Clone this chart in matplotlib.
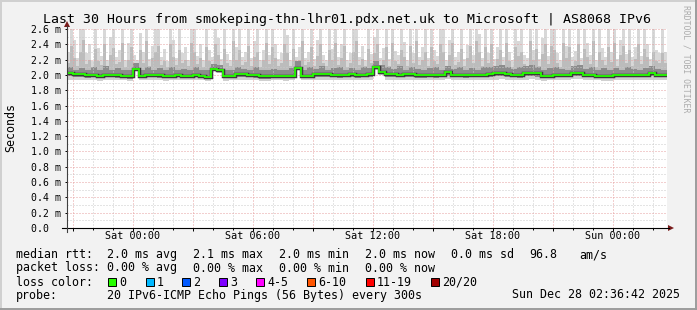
import matplotlib
matplotlib.use('Agg')
import matplotlib.pyplot as plt
import numpy as np
from matplotlib.patches import Rectangle, Polygon
from matplotlib.lines import Line2D

plt.rcParams['font.family'] = 'DejaVu Sans Mono'

W, H = 697, 310

# hours relative to Sat 00:00; 100 bins of 18 min for median / core, 200 bins of 9 min for smoke tops
t_start = -3.3
t_end = 26.7

median_rtt = [
    2.03, 2.01, 2.01, 2.00, 2.00, 1.99, 2.00, 2.00, 2.00, 1.99,
    1.98, 2.08, 1.99, 2.00, 2.00, 2.00, 1.99, 1.99, 2.00, 1.99,
    1.99, 2.00, 1.99, 1.975, 2.08, 2.06, 1.985, 1.985, 2.01, 2.01,
    2.00, 2.00, 1.98, 1.98, 1.98, 1.985, 1.985, 1.99, 2.095, 1.99,
    1.99, 2.01, 2.01, 2.01, 2.00, 2.00, 2.00, 2.01, 2.00, 2.00,
    2.01, 2.10, 2.04, 2.01, 2.01, 2.00, 2.01, 2.01, 2.00, 2.00,
    2.00, 2.00, 2.00, 2.035, 2.00, 2.00, 2.00, 2.00, 2.00, 2.00,
    2.01, 2.02, 2.02, 2.01, 2.00, 2.00, 2.02, 2.03, 2.02, 1.99,
    1.99, 2.00, 2.00, 2.00, 2.02, 2.03, 2.00, 2.00, 1.99, 1.985,
    1.985, 2.00, 2.00, 2.00, 2.00, 2.00, 2.00, 2.02, 2.00, 2.00]

smoke_lo = [
    1.93, 1.94, 1.93, 1.93, 1.94, 1.92, 1.93, 1.94, 1.93, 1.93,
    1.92, 2.05, 1.93, 1.94, 1.93, 1.93, 1.92, 1.93, 1.94, 1.93,
    1.93, 1.94, 1.93, 1.92, 2.05, 2.03, 1.92, 1.93, 1.94, 1.93,
    1.93, 1.94, 1.92, 1.92, 1.93, 1.93, 1.92, 1.94, 2.06, 1.93,
    1.93, 1.94, 1.94, 1.93, 1.94, 1.93, 1.93, 1.94, 1.93, 1.94,
    1.94, 2.07, 2.00, 1.94, 1.93, 1.94, 1.93, 1.94, 1.93, 1.93,
    1.94, 1.93, 1.93, 1.95, 1.93, 1.94, 1.93, 1.93, 1.94, 1.93,
    1.94, 1.94, 1.95, 1.94, 1.93, 1.93, 1.94, 1.95, 1.94, 1.92,
    1.93, 1.93, 1.94, 1.93, 1.95, 1.95, 1.93, 1.93, 1.93, 1.92,
    1.92, 1.93, 1.94, 1.93, 1.93, 1.94, 1.93, 1.94, 1.93, 1.94]

smoke_core_lo = [
    1.98, 1.97, 1.97, 1.96, 1.97, 1.96, 1.97, 1.97, 1.96, 1.96,
    1.95, 2.06, 1.96, 1.97, 1.97, 1.96, 1.96, 1.96, 1.97, 1.96,
    1.96, 1.97, 1.96, 1.95, 2.06, 2.04, 1.96, 1.96, 1.97, 1.97,
    1.97, 1.96, 1.95, 1.95, 1.96, 1.96, 1.96, 1.97, 2.08, 1.96,
    1.96, 1.97, 1.97, 1.97, 1.97, 1.96, 1.97, 1.97, 1.96, 1.97,
    1.97, 2.08, 2.02, 1.97, 1.97, 1.97, 1.97, 1.97, 1.96, 1.96,
    1.97, 1.96, 1.97, 1.98, 1.97, 1.97, 1.96, 1.97, 1.97, 1.97,
    1.97, 1.98, 1.98, 1.97, 1.97, 1.96, 1.98, 1.98, 1.97, 1.96,
    1.96, 1.97, 1.97, 1.97, 1.98, 1.98, 1.97, 1.97, 1.96, 1.96,
    1.96, 1.97, 1.97, 1.97, 1.97, 1.97, 1.97, 1.98, 1.97, 1.97]

smoke_core_hi = [
    2.10, 2.07, 2.09, 2.06, 2.11, 2.07, 2.12, 2.06, 2.09, 2.07,
    2.06, 2.15, 2.07, 2.10, 2.06, 2.09, 2.07, 2.11, 2.06, 2.08,
    2.07, 2.10, 2.06, 2.06, 2.14, 2.13, 2.07, 2.06, 2.10, 2.08,
    2.07, 2.11, 2.06, 2.06, 2.08, 2.06, 2.07, 2.09, 2.18, 2.07,
    2.10, 2.08, 2.12, 2.07, 2.09, 2.11, 2.07, 2.09, 2.07, 2.10,
    2.09, 2.18, 2.13, 2.10, 2.08, 2.12, 2.07, 2.10, 2.08, 2.07,
    2.09, 2.10, 2.07, 2.12, 2.08, 2.10, 2.07, 2.09, 2.07, 2.10,
    2.10, 2.12, 2.13, 2.10, 2.08, 2.10, 2.12, 2.13, 2.10, 2.07,
    2.09, 2.11, 2.08, 2.07, 2.12, 2.13, 2.08, 2.10, 2.07, 2.09,
    2.06, 2.09, 2.07, 2.10, 2.08, 2.07, 2.09, 2.12, 2.08, 2.07]

smoke_mid_hi = [
    2.16, 2.38, 2.22, 2.12, 2.30, 2.45, 2.14, 2.20, 2.11, 2.34, 2.18, 2.13, 2.40, 2.12, 2.26, 2.35, 2.14, 2.17, 2.42, 2.11,
    2.20, 2.36, 2.15, 2.12, 2.32, 2.16, 2.44, 2.12, 2.22, 2.30, 2.38, 2.13, 2.18, 2.11, 2.40, 2.24, 2.13, 2.33, 2.16, 2.20,
    2.12, 2.42, 2.30, 2.14, 2.22, 2.11, 2.36, 2.18, 2.13, 2.40, 2.26, 2.12, 2.34, 2.15, 2.12, 2.44, 2.20, 2.32, 2.13, 2.17,
    2.38, 2.12, 2.24, 2.30, 2.11, 2.19, 2.42, 2.14, 2.36, 2.22, 2.12, 2.16, 2.40, 2.28, 2.12, 2.34, 2.14, 2.20, 2.44, 2.13,
    2.17, 2.36, 2.12, 2.25, 2.40, 2.15, 2.12, 2.32, 2.19, 2.42, 2.13, 2.22, 2.38, 2.11, 2.16, 2.30, 2.44, 2.13, 2.21, 2.12,
    2.34, 2.15, 2.28, 2.40, 2.12, 2.20, 2.36, 2.12, 2.42, 2.18, 2.14, 2.32, 2.24, 2.12, 2.38, 2.16, 2.44, 2.13, 2.20, 2.30,
    2.12, 2.36, 2.18, 2.14, 2.40, 2.30, 2.11, 2.26, 2.42, 2.13, 2.17, 2.34, 2.12, 2.22, 2.38, 2.15, 2.44, 2.30, 2.12, 2.36,
    2.16, 2.40, 2.12, 2.21, 2.32, 2.13, 2.42, 2.18, 2.11, 2.36, 2.25, 2.30, 2.14, 2.12, 2.44, 2.19, 2.34, 2.12, 2.27, 2.40,
    2.14, 2.38, 2.32, 2.16, 2.11, 2.42, 2.22, 2.36, 2.12, 2.18, 2.40, 2.12, 2.34, 2.24, 2.14, 2.44, 2.11, 2.30, 2.20, 2.13,
    2.36, 2.17, 2.42, 2.12, 2.26, 2.38, 2.15, 2.32, 2.12, 2.21, 2.40, 2.14, 2.34, 2.23, 2.12, 2.30, 2.18, 2.15, 2.28, 2.16]

smoke_hi = [
    2.30, 2.60, 2.45, 2.22, 2.60, 2.60, 2.28, 2.40, 2.18, 2.60, 2.35, 2.25, 2.60, 2.20, 2.50, 2.60, 2.24, 2.32, 2.60, 2.19,
    2.42, 2.60, 2.26, 2.20, 2.55, 2.30, 2.60, 2.21, 2.38, 2.60, 2.60, 2.23, 2.34, 2.18, 2.60, 2.46, 2.22, 2.60, 2.28, 2.36,
    2.20, 2.60, 2.60, 2.25, 2.40, 2.19, 2.60, 2.32, 2.24, 2.60, 2.48, 2.21, 2.60, 2.27, 2.20, 2.60, 2.36, 2.60, 2.23, 2.30,
    2.60, 2.22, 2.44, 2.60, 2.19, 2.33, 2.60, 2.26, 2.60, 2.40, 2.21, 2.28, 2.60, 2.52, 2.20, 2.60, 2.24, 2.37, 2.60, 2.22,
    2.30, 2.60, 2.21, 2.45, 2.60, 2.26, 2.20, 2.60, 2.34, 2.60, 2.24, 2.41, 2.60, 2.19, 2.29, 2.60, 2.60, 2.23, 2.38, 2.20,
    2.60, 2.27, 2.50, 2.60, 2.22, 2.35, 2.60, 2.21, 2.60, 2.31, 2.26, 2.60, 2.43, 2.20, 2.60, 2.28, 2.60, 2.24, 2.36, 2.60,
    2.22, 2.60, 2.32, 2.25, 2.60, 2.60, 2.20, 2.46, 2.60, 2.23, 2.30, 2.60, 2.21, 2.39, 2.60, 2.26, 2.60, 2.54, 2.22, 2.60,
    2.28, 2.60, 2.21, 2.37, 2.60, 2.24, 2.60, 2.30, 2.20, 2.60, 2.44, 2.60, 2.26, 2.22, 2.60, 2.33, 2.60, 2.21, 2.48, 2.60,
    2.25, 2.60, 2.60, 2.29, 2.20, 2.60, 2.38, 2.60, 2.23, 2.31, 2.60, 2.22, 2.60, 2.42, 2.26, 2.60, 2.20, 2.60, 2.35, 2.24,
    2.60, 2.30, 2.60, 2.21, 2.46, 2.60, 2.27, 2.60, 2.23, 2.36, 2.60, 2.25, 2.60, 2.40, 2.21, 2.60, 2.32, 2.28, 2.60, 2.30]

grid_hours = [-3, 0, 3, 6, 9, 12, 15, 18, 21, 24]
hour_labels = ['', 'Sat 00:00', '', 'Sat 06:00', '', 'Sat 12:00', '', 'Sat 18:00', '', 'Sun 00:00']
y_ticks = [0.0, 0.2, 0.4, 0.6, 0.8, 1.0, 1.2, 1.4, 1.6, 1.8, 2.0, 2.2, 2.4, 2.6]
y_labels = ['0.0  ', '0.2 m', '0.4 m', '0.6 m', '0.8 m', '1.0 m', '1.2 m', '1.4 m',
            '1.6 m', '1.8 m', '2.0 m', '2.2 m', '2.4 m', '2.6 m']

rtt_stats = ['2.0 ms avg', '2.1 ms max', '2.0 ms min', '2.0 ms now', '0.0 ms sd', '96.8', 'am/s']
rtt_x = [107, 193, 279, 365, 451, 529, 579]
loss_stats = ['0.00 % avg', '0.00 % max', '0.00 % min', '0.00 % now']
loss_x = [107, 193, 279, 365]
loss_names = ['0', '1', '2', '3', '4-5', '6-10', '11-19', '20/20']
loss_colors = ['#26ff00', '#00b8ff', '#0059ff', '#7e00ff', '#ff00ff', '#ff5500', '#ff0000', '#a10000']
loss_box_x = [108, 146, 182, 219, 256, 307, 366, 431]


def fx(x):
    return x / W


def fy(y):
    return 1 - y / H


fig = plt.figure(figsize=(W / 100, H / 100), dpi=100, facecolor='#f2f2f2')

ax = fig.add_axes([fx(67), fy(228), 600 / W, 199 / H])
ax.set_facecolor('white')
edges = np.linspace(t_start, t_end, len(median_rtt) + 1)
edges_fine = np.linspace(t_start, t_end, len(smoke_hi) + 1)

# smoke: light outer pings, medium, dark core, then median
ax.stairs(smoke_hi, edges_fine, baseline=2.06, fill=True, color='#d8d8d8', lw=0)
ax.stairs(smoke_mid_hi, edges_fine, baseline=2.06, fill=True, color='#bcbcbc', lw=0)
ax.stairs(smoke_core_lo, edges, baseline=smoke_lo, fill=True, color='#d0d0d0', lw=0)
ax.stairs(smoke_core_hi, edges, baseline=smoke_core_lo, fill=True, color='#8c8c8c', lw=0)
ax.stairs(median_rtt, edges, baseline=None, color='#3a3a3a', lw=2.5, zorder=3.9)
ax.stairs(median_rtt, edges, baseline=None, color='#26ff00', lw=1.3, zorder=4)

ax.set_xlim(t_start, t_end)
ax.set_ylim(0, 2.6)

ax.set_xticks(grid_hours, hour_labels, fontsize=7.3)
ax.set_xticks(np.arange(-3, 27, 1), minor=True)
ax.set_yticks(y_ticks, y_labels, ha='left', fontsize=7.1)
ax.set_yticks(np.arange(0.1, 2.6, 0.2), minor=True)

ax.tick_params(axis='x', which='major', length=2, width=0.7, pad=0.5)
ax.tick_params(axis='x', which='minor', length=1.5, width=0.7)
ax.tick_params(axis='y', which='major', length=1.5, width=0.7, pad=24.4)
ax.tick_params(axis='y', which='minor', length=0)

ax.set_axisbelow(False)
ax.grid(which='major', color='#e6a0a0', lw=0.72, linestyle=(0, (1, 2)))
ax.grid(which='minor', color='#cacaca', lw=0.72, linestyle=(0, (1, 2)))
for s in ax.spines.values():
    s.set_visible(False)

# axes with arrows
fig.add_artist(Line2D([fx(62), fx(669)], [fy(228), fy(228)], color='black', lw=0.8))
fig.add_artist(Line2D([fx(67), fx(67)], [fy(232), fy(26)], color='#404040', lw=0.8))
fig.add_artist(Polygon([(fx(668), fy(225)), (fx(668), fy(231)), (fx(674), fy(228))],
                       closed=True, color='#7a1c1c', lw=0))
fig.add_artist(Polygon([(fx(64), fy(27)), (fx(70), fy(27)), (fx(67), fy(21))],
                       closed=True, color='#7a1c1c', lw=0))

fig.text(fx(347), fy(23.5), 'Last 30 Hours from smokeping-thn-lhr01.pdx.net.uk to Microsoft | AS8068 IPv6',
         ha='center', va='baseline', fontsize=9.5)
fig.text(fx(11), fy(127), 'Seconds', rotation=90, ha='center', va='center', fontsize=8.4)
fig.text(fx(686), fy(59), 'RRDTOOL / TOBI OETIKER', rotation=270, ha='center', va='center',
         fontsize=5.9, color='#ababab')

rows = [258, 271.5, 285.5, 298.5]
leg = dict(ha='left', va='baseline', fontsize=8.4)
fig.text(fx(16), fy(rows[0]), 'median rtt:', **leg)
for x, s in zip(rtt_x, rtt_stats):
    fig.text(fx(x), fy(rows[0]), s, **leg)
fig.text(fx(16), fy(rows[1]), 'packet loss:', **leg)
for x, s in zip(loss_x, loss_stats):
    fig.text(fx(x), fy(rows[1]), s, **leg)
fig.text(fx(16), fy(rows[2]), 'loss color:', **leg)
for x, name, c in zip(loss_box_x, loss_names, loss_colors):
    fig.add_artist(Rectangle((fx(x), fy(rows[2])), 8 / W, 8 / H, facecolor=c,
                             edgecolor='black', lw=0.7))
    fig.text(fx(x + 11), fy(rows[2]), name, **leg)
fig.text(fx(16), fy(rows[3]), 'probe:', **leg)
fig.text(fx(107), fy(rows[3]), '20 IPv6-ICMP Echo Pings (56 Bytes) every 300s', **leg)
fig.text(fx(680), fy(rows[3]), 'Sun Dec 28 02:36:42 2025', ha='right', va='baseline', fontsize=8.4)

# 3d frame
fig.add_artist(Line2D([0, 1], [fy(0.5), fy(0.5)], color='#d0d0d0', lw=1.4))
fig.add_artist(Line2D([fx(0.5), fx(0.5)], [0, 1], color='#d0d0d0', lw=1.4))
fig.add_artist(Line2D([0, 1], [fy(309), fy(309)], color='#9c9c9c', lw=1.4))
fig.add_artist(Line2D([fx(696), fx(696)], [0, 1], color='#9c9c9c', lw=1.4))

fig.savefig('out.png', dpi=100, facecolor=fig.get_facecolor())
